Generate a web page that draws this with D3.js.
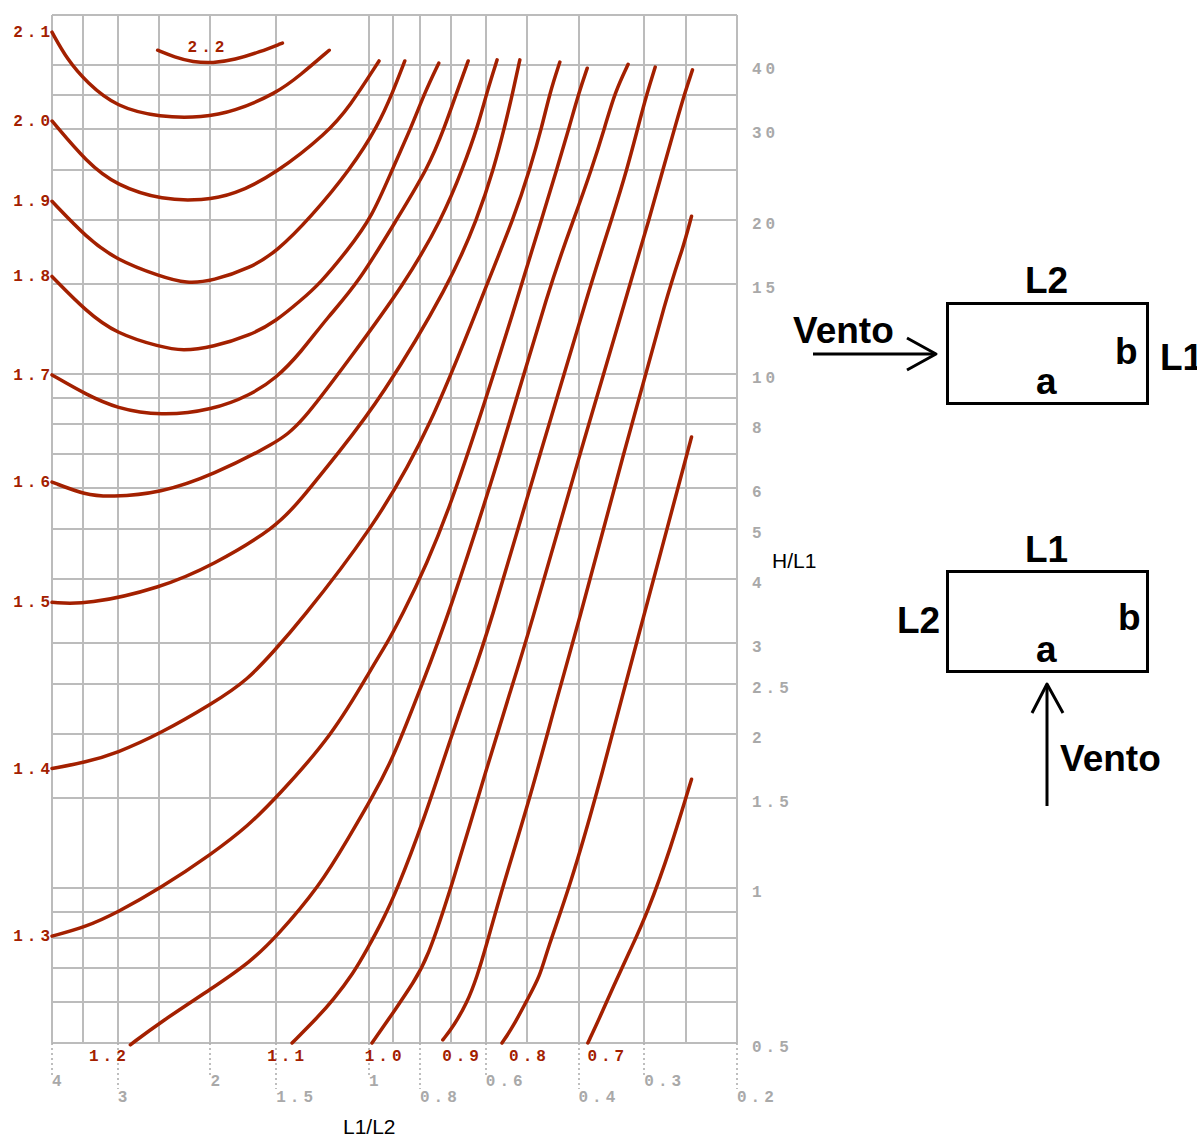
<!doctype html>
<html>
<head>
<meta charset="utf-8">
<script src="https://cdnjs.cloudflare.com/ajax/libs/d3/7.8.5/d3.min.js"></script>
<style>
  body { margin: 0; background: #fff; }
  svg { display: block; }
  .num { font-family: "Liberation Mono", "Courier New", monospace; font-weight: bold; font-size: 16px; letter-spacing: 4px; }
  .ttl { font-family: "Liberation Sans", Arial, sans-serif; }
  .big { font-family: "Liberation Sans", Arial, sans-serif; font-weight: bold; font-size: 37px; }
</style>
</head>
<body>
<svg id="chart" width="1197" height="1138"></svg>
<script>
// curves: [L1/L2, H/L1]
var ca22 = [[2.52,42.7],[2.34,41.4],[2.16,40.5],[1.98,40.3],[1.80,40.9],[1.61,42.4],[1.46,44.1]];
var ca21 = [[4,46.3],[3.74,40.9],[3.43,36.9],[3.02,33.1],[2.49,31.6],[2.07,31.6],[1.81,32.4],[1.50,35.2],[1.35,38.2],[1.19,42.7]];
var ca20 = [[4,31.1],[3.43,25.8],[3.02,23.3],[2.46,21.8],[2.07,21.8],[1.81,22.3],[1.50,24.6],[1.20,29.5],[1.09,33.1],[0.957,40.7]];
var ca19 = [[4,21.7],[3.43,18.4],[3.02,16.7],[2.49,15.5],[2.22,15.0],[1.98,15.2],[1.68,16.1],[1.50,17.3],[1.29,20.2],[1.08,25.2],[0.962,30.4],[0.901,35.4],[0.855,40.7]];
var ca18 = [[4,15.5],[3.43,13.2],[3.02,12.0],[2.49,11.3],[2.26,11.1],[1.98,11.3],[1.68,11.9],[1.50,12.7],[1.35,13.9],[1.24,15.0],[1.10,17.4],[0.987,20.2],[0.901,25.2],[0.829,30.4],[0.783,35.4],[0.737,40.3]];
var ca17 = [[4,9.97],[3.43,9.11],[3.02,8.59],[2.49,8.29],[1.98,8.52],[1.68,9.11],[1.50,9.83],[1.35,11.0],[1.20,12.9],[1.05,15.0],[0.881,20.2],[0.772,25.2],[0.717,30.4],[0.681,35.4],[0.648,40.7]];
var ca16 = [[4,6.17],[3.45,5.82],[3.10,5.77],[2.49,5.87],[1.98,6.37],[1.50,7.35],[1.35,7.97],[1.09,10.7],[0.855,15.0],[0.724,20.2],[0.663,25.2],[0.621,30.4],[0.597,35.4],[0.571,40.9]];
var ca15 = [[4,3.60],[3.43,3.56],[2.49,3.84],[1.98,4.25],[1.50,5.04],[1.35,5.69],[1.14,7.06],[0.953,8.91],[0.702,15.0],[0.621,20.2],[0.579,25.2],[0.552,30.4],[0.533,35.4],[0.517,40.9]];
var ca14 = [[4,1.71],[3.45,1.76],[3.02,1.83],[2.49,2.00],[1.98,2.29],[1.70,2.54],[1.50,2.93],[1.37,3.25],[0.987,4.98],[0.766,7.79],[0.597,15.0],[0.530,20.2],[0.494,25.2],[0.469,30.4],[0.453,35.4],[0.434,40.5]];
var ca13 = [[4,0.807],[3.45,0.841],[3.02,0.895],[2.49,1.00],[1.98,1.17],[1.70,1.32],[1.50,1.50],[1.17,1.99],[0.987,2.69],[0.924,3.00],[0.885,3.25],[0.717,4.98],[0.512,15.0],[0.469,20.2],[0.439,25.2],[0.416,30.4],[0.399,35.4],[0.385,39.4]];
var ca12 = [[2.84,0.496],[2.49,0.549],[1.98,0.640],[1.68,0.719],[1.50,0.804],[1.24,1.01],[1.09,1.26],[0.987,1.50],[0.897,1.80],[0.790,2.52],[0.711,3.33],[0.559,7.12],[0.453,15.0],[0.407,20.2],[0.377,25.2],[0.356,30.4],[0.341,35.4],[0.322,40.1]];
var ca11 = [[1.40,0.5],[1.25,0.562],[1.17,0.606],[1.07,0.684],[1.01,0.758],[0.941,0.867],[0.885,0.992],[0.790,1.34],[0.696,1.99],[0.643,2.51],[0.597,3.10],[0.471,7.12],[0.379,15.0],[0.345,20.2],[0.323,25.2],[0.308,30.4],[0.296,35.4],[0.286,39.6]];
var ca10 = [[0.987,0.5],[0.885,0.587],[0.825,0.654],[0.776,0.725],[0.696,1.01],[0.594,1.75],[0.540,2.40],[0.499,3.10],[0.406,6.51],[0.319,15.0],[0.293,20.2],[0.276,25.2],[0.262,30.4],[0.251,35.4],[0.243,39.1]];
var ca09 = [[0.724,0.507],[0.693,0.537],[0.651,0.598],[0.623,0.675],[0.602,0.758],[0.557,1.01],[0.494,1.50],[0.434,2.46],[0.406,3.10],[0.331,6.81],[0.268,15.0],[0.254,17.4],[0.244,20.3]];
var ca08 = [[0.559,0.5],[0.533,0.537],[0.501,0.606],[0.473,0.675],[0.459,0.758],[0.415,1.01],[0.369,1.53],[0.329,2.40],[0.302,3.33],[0.244,7.55]];
var ca07 = [[0.384,0.5],[0.364,0.562],[0.344,0.642],[0.319,0.758],[0.296,0.895],[0.267,1.20],[0.244,1.63]];

// curves that start on the left edge (label at the left) and on the bottom edge
var leftCurves   = [["2.1",ca21],["2.0",ca20],["1.9",ca19],["1.8",ca18],["1.7",ca17],["1.6",ca16],["1.5",ca15],["1.4",ca14],["1.3",ca13]];
var bottomCurves = [["1.2",ca12],["1.1",ca11],["1.0",ca10],["0.9",ca09],["0.8",ca08],["0.7",ca07]];
var bottomLabelX = [3.14, 1.44, 0.94, 0.67, 0.50, 0.355];   // centre of red labels under the axis
var topLabel = ["2.2", 2.04];

// grid and tick labels
var gridH = [50,40,35,30,25,20,15,10,9,8,7,6,5,4,3,2.5,2,1.5,1,0.9,0.8,0.7,0.6,0.5];
var gridV = [4,3.5,3,2.5,2,1.5,1,0.9,0.8,0.7,0.6,0.5,0.4,0.3,0.25,0.2];
var tickH = [40,30,20,15,10,8,6,5,4,3,2.5,2,1.5,1,0.5];
var tickVrow1 = [4,2,1,0.6,0.3];
var tickVrow2 = [3,1.5,0.8,0.4,0.2];

var red = "#a32000", grey = "#a9a9a9";
var svg = d3.select("#chart");

var x = d3.scaleLog().domain([4, 0.2]).range([52, 737]);
var y = d3.scaleLog().domain([0.5, 50]).range([1043, 15]);

//== grid ==
var g = svg.append("g").attr("stroke", "#bcbcbc").attr("stroke-width", 2);
g.selectAll("line.h").data(gridH).join("line").attr("class","h")
  .attr("x1", x(4)).attr("x2", x(0.2))
  .attr("y1", d => Math.round(y(d))).attr("y2", d => Math.round(y(d)));
g.selectAll("line.v").data(gridV).join("line").attr("class","v")
  .attr("x1", d => Math.round(x(d))).attr("x2", d => Math.round(x(d)))
  .attr("y1", y(50)).attr("y2", y(0.5));

//== right tick labels ==
svg.append("g").selectAll("text").data(tickH).join("text")
  .attr("class","num").attr("fill", grey)
  .attr("x", 752).attr("y", d => y(d) + 9)
  .text(d => d);

//== bottom dotted ticks and labels ==
function bottomRow(vals, len, base) {
  var r = svg.append("g");
  r.selectAll("line").data(vals).join("line")
    .attr("x1", d => Math.round(x(d))).attr("x2", d => Math.round(x(d)))
    .attr("y1", y(0.5)).attr("y2", y(0.5) + len)
    .attr("stroke", grey).attr("stroke-width", 1.5).attr("stroke-dasharray", "2,3");
  r.selectAll("text").data(vals).join("text")
    .attr("class","num").attr("fill", grey)
    .attr("x", d => x(d)).attr("y", base)
    .text(d => d);
}
bottomRow(tickVrow1, 32, 1086);
bottomRow(tickVrow2, 46, 1102);

//== curves ==
var line = d3.line().x(d => x(d[0])).y(d => y(d[1])).curve(d3.curveBasis);
var all = [["2.2", ca22]].concat(leftCurves, bottomCurves);
svg.append("g").selectAll("path").data(all).join("path")
  .attr("d", d => line(d[1]))
  .attr("fill", "none").attr("stroke", red).attr("stroke-width", 3.5)
  .attr("stroke-linecap", "round").attr("stroke-linejoin", "round");

//== curve labels ==
svg.append("g").selectAll("text").data(leftCurves).join("text")
  .attr("class","num").attr("fill", red).attr("text-anchor","end")
  .attr("x", x(4) + 2).attr("y", d => y(d[1][0][1]) + 5)
  .text(d => d[0]);
svg.append("g").selectAll("text").data(bottomCurves).join("text")
  .attr("class","num").attr("fill", red).attr("text-anchor","middle")
  .attr("x", (d, i) => x(bottomLabelX[i]) + 2).attr("y", 1061)
  .text(d => d[0]);
svg.append("text").attr("class","num").attr("fill", red).attr("text-anchor","middle")
  .attr("x", x(topLabel[1]) + 2).attr("y", 52).text(topLabel[0]);

//== axis titles ==
svg.append("text").attr("class","ttl").attr("font-size", 21).attr("x", 772).attr("y", 568).text("H/L1");
svg.append("text").attr("class","ttl").attr("font-size", 21).attr("x", 343).attr("y", 1134).text("L1/L2");

//== building sketches ==
function sketch(s) {
  var k = svg.append("g").attr("stroke", "#000").attr("stroke-width", 3).attr("fill", "none");
  k.append("rect").attr("x", s.rect[0]).attr("y", s.rect[1]).attr("width", 200).attr("height", 100);
  k.append("line").attr("x1", s.arrow[0][0]).attr("y1", s.arrow[0][1]).attr("x2", s.arrow[1][0]).attr("y2", s.arrow[1][1]);
  k.append("polyline").attr("points", s.head.map(p => p.join(",")).join(" ")).attr("stroke-linejoin","round");
  s.text.forEach(function(t) {
    svg.append("text").attr("class","big").attr("x", t[1]).attr("y", t[2]).text(t[0]);
  });
}
sketch({
  rect: [947.5, 303.5],
  arrow: [[813, 354], [935, 354]],
  head: [[907, 338], [936, 354], [907, 370]],
  text: [["L2", 1025, 293], ["Vento", 793, 343], ["b", 1115, 364], ["a", 1036, 394], ["L1", 1160, 370]]
});
sketch({
  rect: [947.5, 571.5],
  arrow: [[1047, 806], [1047, 685]],
  head: [[1032, 713], [1047, 684], [1063, 713]],
  text: [["L1", 1025, 562], ["L2", 897, 633], ["b", 1118, 630], ["a", 1036, 662], ["Vento", 1060, 771]]
});
</script>
</body>
</html>
